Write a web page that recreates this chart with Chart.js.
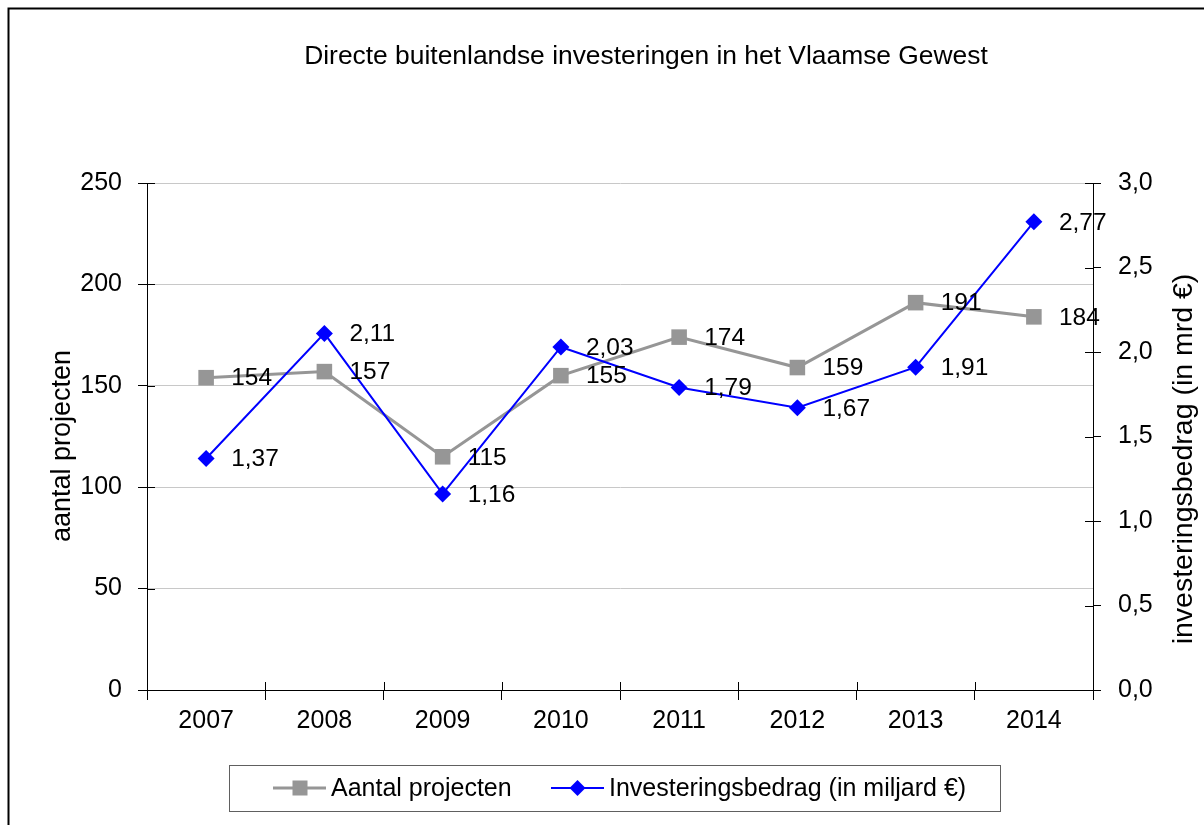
<!DOCTYPE html>
<html>
<head>
<meta charset="utf-8">
<script src="https://cdn.jsdelivr.net/npm/chart.js@4.4.0/dist/chart.umd.min.js"></script>
<style>
html,body{margin:0;padding:0;background:#fff;}
canvas{display:block;}
</style>
</head>
<body>
<canvas id="c" width="1204" height="825"></canvas>
<script>
// ---- data ----
const chartTitle = 'Directe buitenlandse investeringen in het Vlaamse Gewest';
const categories = ['2007', '2008', '2009', '2010', '2011', '2012', '2013', '2014'];
const seriesNames = ['Aantal projecten', 'Investeringsbedrag (in miljard €)'];
const projectCounts = [154, 157, 115, 155, 174, 159, 191, 184];
const investAmounts = [1.37, 2.11, 1.16, 2.03, 1.79, 1.67, 1.91, 2.77];
const leftAxisTitle = 'aantal projecten';
const rightAxisTitle = 'investeringsbedrag (in mrd €)';
const leftAxisRange = [0, 250, 50];
const rightAxisRange = [0, 3, 0.5];

// ---- styles ----
const FONT = '"Liberation Sans", Arial, sans-serif';
const FS = 24.5;
const GRAY = '#969696';
const BLUE = '#0000ff';
const fmtComma = (v, d) => Number(v).toFixed(d).replace('.', ',');

const decorPlugin = {
  id: 'decor',
  beforeDraw(chart) {
    const ctx = chart.ctx;
    ctx.save();
    ctx.fillStyle = '#fff';
    ctx.fillRect(0, 0, chart.width, chart.height);
    ctx.restore();
  },
  afterDatasetsDraw(chart) {
    const ctx = chart.ctx;
    ctx.save();
    ctx.fillStyle = '#000';
    ctx.font = FS + 'px ' + FONT;
    ctx.textAlign = 'left';
    ctx.textBaseline = 'middle';
    chart.data.datasets.forEach((ds, i) => {
      const meta = chart.getDatasetMeta(i);
      meta.data.forEach((pt, j) => {
        const txt = i === 0 ? String(ds.data[j]) : fmtComma(ds.data[j], 2);
        ctx.fillText(txt, pt.x + 25, pt.y + 1);
      });
    });
    ctx.restore();
  },
  afterDraw(chart) {
    const ctx = chart.ctx;
    const a = chart.chartArea;
    const xs = chart.scales.x, yl = chart.scales.y, yr = chart.scales.y1;
    ctx.save();
    // inner halves of the cross tick marks
    ctx.strokeStyle = '#000';
    ctx.lineWidth = 1;
    ctx.beginPath();
    yl.ticks.forEach(t => {
      const y = Math.round(yl.getPixelForValue(t.value)) + 0.5;
      ctx.moveTo(a.left, y); ctx.lineTo(a.left + 8, y);
    });
    yr.ticks.forEach(t => {
      const y = Math.round(yr.getPixelForValue(t.value)) + 0.5;
      ctx.moveTo(a.right - 8, y); ctx.lineTo(a.right, y);
    });
    for (let i = 0; i <= categories.length; i++) {
      const x = Math.round(xs.getPixelForValue(i - 0.5)) + 0.5;
      ctx.moveTo(x, a.bottom - 8); ctx.lineTo(x, a.bottom);
    }
    ctx.stroke();

    // title
    ctx.fillStyle = '#000';
    ctx.font = '26.4px ' + FONT;
    ctx.textAlign = 'center';
    ctx.textBaseline = 'alphabetic';
    ctx.fillText(chartTitle, 646, 64);

    // axis titles
    ctx.font = '27px ' + FONT;
    ctx.save();
    ctx.translate(70, 446);
    ctx.rotate(-Math.PI / 2);
    ctx.fillText(leftAxisTitle, 0, 0);
    ctx.restore();
    ctx.font = '28.5px ' + FONT;
    ctx.save();
    ctx.translate(1192, 459);
    ctx.rotate(-Math.PI / 2);
    ctx.fillText(rightAxisTitle, 0, 0);
    ctx.restore();

    // legend
    ctx.strokeStyle = '#606060';
    ctx.lineWidth = 1;
    ctx.strokeRect(229.5, 765.5, 771, 46);
    const ly = 788;
    ctx.font = '25px ' + FONT;
    ctx.textAlign = 'left';
    ctx.textBaseline = 'middle';
    // series 1
    ctx.strokeStyle = GRAY; ctx.lineWidth = 3;
    ctx.beginPath(); ctx.moveTo(273, ly); ctx.lineTo(326, ly); ctx.stroke();
    ctx.fillStyle = GRAY;
    ctx.fillRect(300 - 7.5, ly - 7.5, 15, 15);
    ctx.fillStyle = '#000';
    ctx.fillText(seriesNames[0], 331, ly + 1);
    // series 2
    ctx.strokeStyle = BLUE; ctx.lineWidth = 2;
    ctx.beginPath(); ctx.moveTo(551, ly); ctx.lineTo(604, ly); ctx.stroke();
    ctx.fillStyle = BLUE;
    ctx.beginPath();
    ctx.moveTo(577.5, ly - 8); ctx.lineTo(585.5, ly); ctx.lineTo(577.5, ly + 8); ctx.lineTo(569.5, ly);
    ctx.closePath(); ctx.fill();
    ctx.fillStyle = '#000';
    ctx.fillText(seriesNames[1], 609, ly + 1);

    // outer frame
    ctx.strokeStyle = '#000';
    ctx.lineWidth = 2;
    ctx.beginPath();
    ctx.moveTo(chart.width + 5, 8.5);
    ctx.lineTo(8.5, 8.5);
    ctx.lineTo(8.5, chart.height + 5);
    ctx.stroke();
    ctx.restore();
  }
};

new Chart(document.getElementById('c'), {
  type: 'line',
  data: {
    labels: categories,
    datasets: [
      {
        label: seriesNames[0],
        data: projectCounts,
        yAxisID: 'y',
        borderColor: GRAY,
        backgroundColor: GRAY,
        borderWidth: 3,
        pointStyle: 'rect',
        pointRadius: 11,
        pointBorderWidth: 0,
        pointBackgroundColor: GRAY,
        tension: 0,
        order: 1
      },
      {
        label: seriesNames[1],
        data: investAmounts,
        yAxisID: 'y1',
        borderColor: BLUE,
        backgroundColor: BLUE,
        borderWidth: 2,
        pointStyle: 'rectRot',
        pointRadius: 8.5,
        pointBorderWidth: 0,
        pointBackgroundColor: BLUE,
        tension: 0,
        order: 0
      }
    ]
  },
  options: {
    responsive: false,
    animation: false,
    devicePixelRatio: 1,
    layout: { padding: { top: 183, bottom: 95, left: 0, right: 0 } },
    plugins: {
      legend: { display: false },
      title: { display: false },
      tooltip: { enabled: false }
    },
    scales: {
      x: {
        type: 'category',
        offset: true,
        grid: { offset: true, drawOnChartArea: false, tickLength: 10, color: '#000', tickColor: '#000' },
        border: { color: '#000', width: 1 },
        ticks: { color: '#000', font: { family: FONT, size: 25 }, padding: 6, maxRotation: 0, autoSkip: false },
        afterFit(s) { s.height = 40; }
      },
      y: {
        position: 'left',
        min: leftAxisRange[0],
        max: leftAxisRange[1],
        grid: { color: '#c8c8c8', tickColor: '#000', tickLength: 9 },
        border: { color: '#000', width: 1 },
        ticks: { stepSize: leftAxisRange[2], color: '#000', font: { family: FONT, size: 25 }, padding: 16 },
        afterFit(s) { s.width = 147; }
      },
      y1: {
        position: 'right',
        min: rightAxisRange[0],
        max: rightAxisRange[1],
        grid: { drawOnChartArea: false, tickColor: '#000', tickLength: 8 },
        border: { color: '#000', width: 1 },
        ticks: { stepSize: rightAxisRange[2], color: '#000', font: { family: FONT, size: 25 }, padding: 17,
                 callback: v => fmtComma(v, 1) },
        afterFit(s) { s.width = 111; }
      }
    }
  },
  plugins: [decorPlugin]
});
</script>
</body>
</html>
